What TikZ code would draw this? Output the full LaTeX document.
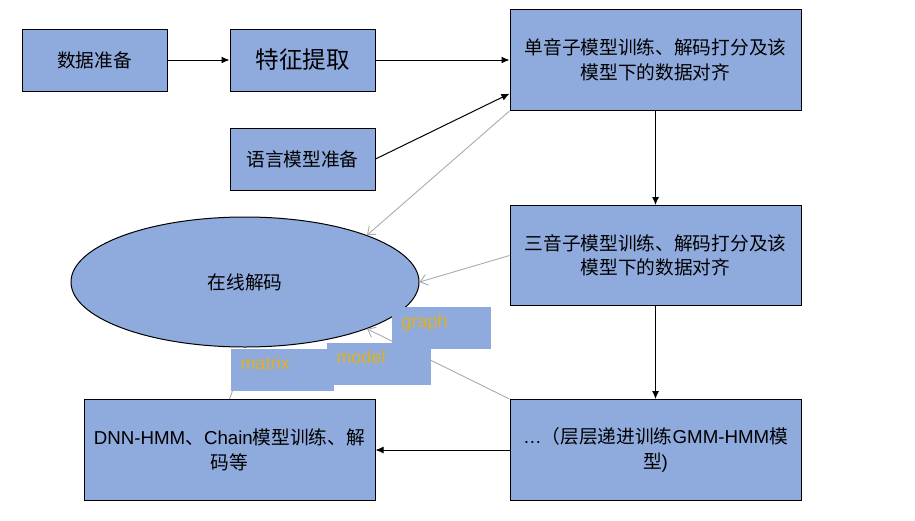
\documentclass[tikz,border=0pt]{standalone}
\usepackage{fontspec}
\setmainfont{Liberation Sans}
\newfontfamily\cjk{Noto Sans CJK SC}
\newfontfamily\latin{Liberation Sans}
\usepackage{tikz}
\usetikzlibrary{shapes,arrows,arrows.meta}
\usetikzlibrary{positioning}
\definecolor{boxblue}{RGB}{143,170,220}
\definecolor{labelgold}{RGB}{226,178,28}
\tikzstyle{arrow}=[draw, -{Latex[length=8pt,width=7pt]}, line width=1pt]
\tikzstyle{feedback}=[draw, black!33, line width=0.9pt, -{Straight Barb[length=7pt,width=11pt]}]

\begin{document}
\begin{tikzpicture}[x=1pt, y=-1pt,
                node distance=36pt and 62pt,
                every node/.style={draw, line width=1pt, fill=boxblue, minimum width=145pt, minimum height=62pt, align=center, inner sep=2pt, font=\cjk\fontsize{18.7pt}{24.5pt}\selectfont},
                tagbox/.style={draw=none, anchor=north west, minimum width=0pt, minimum height=0pt, inner xsep=10pt, inner ysep=0pt, align=left, text height=21pt, text depth=21pt, text=labelgold, font=\latin\fontsize{18pt}{20pt}\selectfont}
            ]
                \useasboundingbox (0,0) rectangle (915,520);

                % boxes of the training chain
                \node (data) [rectangle] at (94.5,60) {数据准备};
                \node (feat) [rectangle, right=of data, font=\cjk\fontsize{23.5pt}{28pt}\selectfont] {特征提取};
                \node (mono) [rectangle, right=134pt of feat, minimum width=291pt, minimum height=101pt] {单音子模型训练、解码打分及该\\模型下的数据对齐};
                \node (lm) [rectangle, below=of feat] {语言模型准备};
                \node (tri) [rectangle, below=94pt of mono, minimum width=291pt, minimum height=100pt] {三音子模型训练、解码打分及该\\模型下的数据对齐};
                \node (gmm) [rectangle, below=93pt of tri, minimum width=291pt, minimum height=101pt] {{\latin …}（层层递进训练{\latin GMM-HMM}模\\型{\latin )}};
                \node (dnn) [rectangle, left=134pt of gmm, minimum width=291pt, minimum height=101pt] {{\latin DNN-HMM}、{\latin Chain}模型训练、解\\码等};

                % decoding
                \node (online) [ellipse, minimum width=348pt, minimum height=130pt] at (245,282) {在线解码};

                % main flow
                \draw[arrow] (data.east) -- (feat.west);
                \draw[arrow] (feat.east) -- (mono.west);
                \draw[arrow] (lm.east) -- (mono.193);
                \draw[arrow] (mono.south) -- (tri.north);
                \draw[arrow] (tri.south) -- (gmm.north);
                \draw[arrow] (gmm.west) -- (dnn.east);

                % models passed on to decoding
                \draw[feedback] (mono.south west) -- (online.21);
                \draw[feedback] (tri.west) -- (online.east);
                \draw[feedback] (gmm.north west) -- (online.-21);
                \draw[feedback, shorten >=6pt] (dnn.north) -- (online.-87);

                % file tags
                \node (graph) [tagbox, text width=79pt] at (391,306) {graph};
                \node (model) [tagbox, text width=84pt] at (326,342) {model};
                \node (matrix) [tagbox, text width=83pt] at (230,348) {matrix};

            \end{tikzpicture}
\end{document}
